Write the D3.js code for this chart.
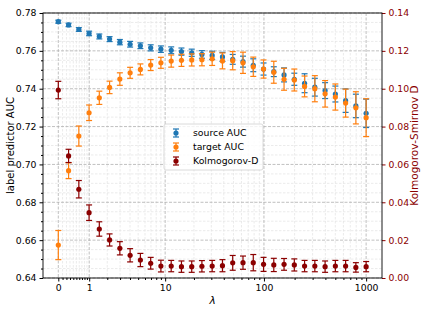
<!DOCTYPE html>
<html>
<head>
<meta charset="utf-8">
<script src="https://cdn.jsdelivr.net/npm/d3@7"></script>
<style>
  body { margin: 0; background: #fff; }
  text { font-family: "DejaVu Sans", sans-serif; }
</style>
</head>
<body>
<div id="chart-area"></div>
<script>

var width = 423,
    height = 318;

// lambda values (31 points, log spaced after 0)
var lambdas = [0, 0.259, 0.585, 0.995, 1.51, 2.16, 2.98, 4.01, 5.31, 6.95, 9.0,
  11.6, 14.86, 18.97, 24.1, 30.6, 38.8, 49.1, 62.1, 78.5, 99.1,
  125, 157.6, 198.7, 250.4, 315.5, 397.5, 500.7, 630.6, 794, 1000];

var sourceAUC = [0.7754, 0.7737, 0.7713, 0.7692, 0.7676, 0.7662, 0.7646, 0.7635, 0.7627, 0.7616, 0.7609,
  0.7603, 0.7596, 0.759, 0.7581, 0.7576, 0.7568, 0.7555, 0.7543, 0.7524, 0.7504,
  0.749, 0.7473, 0.745, 0.7429, 0.7408, 0.739, 0.7372, 0.7337, 0.7309, 0.727];
var sourceErr = [0.0008, 0.0009, 0.001, 0.0012, 0.0013, 0.0013, 0.0014, 0.0015, 0.0015, 0.0016, 0.0017,
  0.0018, 0.0019, 0.0019, 0.002, 0.0022, 0.0024, 0.0026, 0.0029, 0.0034, 0.0032,
  0.0026, 0.0037, 0.0032, 0.005, 0.0047, 0.0042, 0.0042, 0.0062, 0.0062, 0.0075];

var targetAUC = [0.6574, 0.6967, 0.715, 0.7273, 0.7352, 0.7407, 0.7451, 0.7484, 0.7502, 0.7525, 0.7537,
  0.7546, 0.755, 0.7552, 0.7553, 0.7558, 0.7547, 0.7548, 0.7537, 0.7516, 0.7504,
  0.7487, 0.745, 0.7446, 0.7412, 0.74, 0.7373, 0.7356, 0.7324, 0.7299, 0.7247];
var targetErr = [0.0077, 0.0042, 0.0053, 0.0041, 0.0035, 0.0033, 0.0033, 0.0029, 0.0029, 0.0029, 0.0029,
  0.0032, 0.0032, 0.0032, 0.0032, 0.0035, 0.0042, 0.0048, 0.0056, 0.0051, 0.0048,
  0.0058, 0.0058, 0.0058, 0.0055, 0.0069, 0.007, 0.0069, 0.0074, 0.0085, 0.01];

var ksD = [0.0993, 0.0645, 0.0469, 0.0345, 0.0259, 0.0201, 0.0157, 0.012, 0.0095, 0.0078, 0.0063,
  0.0063, 0.006, 0.006, 0.0062, 0.0063, 0.0065, 0.008, 0.0081, 0.0081, 0.0072,
  0.0069, 0.0072, 0.0069, 0.0063, 0.0063, 0.006, 0.0063, 0.0063, 0.0056, 0.006];
var ksErr = [0.0046, 0.0035, 0.0046, 0.0041, 0.0038, 0.0032, 0.0035, 0.0035, 0.0035, 0.0031, 0.0031,
  0.003, 0.003, 0.003, 0.003, 0.003, 0.0032, 0.0039, 0.0035, 0.0043, 0.0037,
  0.0035, 0.0031, 0.0032, 0.003, 0.003, 0.003, 0.003, 0.003, 0.0025, 0.0027];

var xTicks = [0, 1, 10, 100, 1000];
var xMinor = [0.1, 0.2, 0.3, 0.4, 0.5, 0.6, 0.7, 0.8, 0.9,
  2, 3, 4, 5, 6, 7, 8, 9, 20, 30, 40, 50, 60, 70, 80, 90,
  200, 300, 400, 500, 600, 700, 800, 900];
var leftTicks = [0.64, 0.66, 0.68, 0.70, 0.72, 0.74, 0.76, 0.78];
var rightTicks = [0, 0.02, 0.04, 0.06, 0.08, 0.10, 0.12, 0.14];

var seriesNames = ["source AUC", "target AUC", "Kolmogorov-D"];
var colors = ["#1f77b4", "#ff7f0e", "#8b0000"];

var pLeft = 43, pRight = 382, pTop = 13, pBottom = 278;

var svg = d3.select("#chart-area").append("svg")
    .attr("width", width)
    .attr("height", height);

var x = d3.scaleSymlog().constant(1)
    .domain([-0.41, 1428])
    .range([pLeft, pRight]);
var y = d3.scaleLinear().domain([0.64, 0.78]).range([pBottom, pTop]);
var y2 = d3.scaleLinear().domain([0, 0.14]).range([pBottom, pTop]);

var yMinor = d3.range(0.64, 0.7801, 0.005).filter(function(v) {
  return Math.abs(Math.round(v * 50) - v * 50) > 0.01;
});

// grid
var grid = svg.append("g");
grid.selectAll(".vminor").data(xMinor).enter().append("line")
    .attr("x1", d => x(d)).attr("x2", d => x(d))
    .attr("y1", pTop).attr("y2", pBottom)
    .style("stroke", "#e3e3e3").style("stroke-width", 0.7)
    .style("stroke-dasharray", "2.5,1.5");
grid.selectAll(".hminor").data(yMinor).enter().append("line")
    .attr("x1", pLeft).attr("x2", pRight)
    .attr("y1", d => y(d)).attr("y2", d => y(d))
    .style("stroke", "#e3e3e3").style("stroke-width", 0.7)
    .style("stroke-dasharray", "2.5,1.5");
grid.selectAll(".vmajor").data(xTicks).enter().append("line")
    .attr("x1", d => x(d)).attr("x2", d => x(d))
    .attr("y1", pTop).attr("y2", pBottom)
    .style("stroke", "#b0b0b0").style("stroke-width", 0.8)
    .style("stroke-dasharray", "3,1.5");
grid.selectAll(".hmajor").data(leftTicks).enter().append("line")
    .attr("x1", pLeft).attr("x2", pRight)
    .attr("y1", d => y(d)).attr("y2", d => y(d))
    .style("stroke", "#b0b0b0").style("stroke-width", 0.8)
    .style("stroke-dasharray", "3,1.5");

// error bar series
function drawSeries(vals, errs, yScale, color) {
  var g = svg.append("g");
  var pts = lambdas.map(function(l, i) { return {x: l, v: vals[i], e: errs[i]}; });
  var bars = g.selectAll("g").data(pts).enter().append("g");
  bars.append("line")
      .attr("x1", d => x(d.x)).attr("x2", d => x(d.x))
      .attr("y1", d => yScale(d.v - d.e)).attr("y2", d => yScale(d.v + d.e))
      .style("stroke", color).style("stroke-width", 1.2);
  [-1, 1].forEach(function(s) {
    bars.append("line")
        .attr("x1", d => x(d.x) - 3).attr("x2", d => x(d.x) + 3)
        .attr("y1", d => yScale(d.v + s * d.e)).attr("y2", d => yScale(d.v + s * d.e))
        .style("stroke", color).style("stroke-width", 1.2);
  });
  bars.append("circle")
      .attr("cx", d => x(d.x)).attr("cy", d => yScale(d.v))
      .attr("r", 2.6)
      .style("fill", color);
}

drawSeries(sourceAUC, sourceErr, y, colors[0]);
drawSeries(targetAUC, targetErr, y, colors[1]);
drawSeries(ksD, ksErr, y2, colors[2]);

// axes
svg.append("g").attr("transform", "translate(0," + pBottom + ")")
    .call(d3.axisBottom(x).tickValues(xTicks).tickFormat(d3.format("d")).tickSizeOuter(0).tickSize(3.5));
svg.append("g").attr("transform", "translate(0," + pBottom + ")")
    .call(d3.axisBottom(x).tickValues(xMinor).tickFormat("").tickSizeOuter(0).tickSize(2));

svg.append("g").attr("transform", "translate(" + pLeft + ",0)")
    .call(d3.axisLeft(y).tickValues(leftTicks).tickFormat(d3.format(".2f")).tickSizeOuter(0).tickSize(3.5));
svg.append("g").attr("transform", "translate(" + pLeft + ",0)")
    .call(d3.axisLeft(y).tickValues(yMinor).tickFormat("").tickSizeOuter(0).tickSize(2));

var rAxis = svg.append("g").attr("transform", "translate(" + pRight + ",0)")
    .call(d3.axisRight(y2).tickValues(rightTicks).tickFormat(d3.format(".2f")).tickSizeOuter(0).tickSize(3.5));
rAxis.selectAll("text").style("fill", colors[2]);
rAxis.selectAll("line").style("stroke", colors[2]);

svg.selectAll(".domain").remove();
svg.selectAll(".tick text").style("font-size", "9.3px").style("font-family", "DejaVu Sans");

// frame
svg.append("rect")
    .attr("x", pLeft).attr("y", pTop)
    .attr("width", pRight - pLeft).attr("height", pBottom - pTop)
    .style("fill", "none").style("stroke", "#000").style("stroke-width", 0.9);

// labels
svg.append("text")
    .attr("transform", "translate(10," + ((pTop + pBottom) / 2) + ") rotate(-90)")
    .attr("text-anchor", "middle").attr("dy", "0.35em")
    .style("font-size", "10px")
    .text("label predictor AUC");
svg.append("text")
    .attr("transform", "translate(414," + ((pTop + pBottom) / 2) + ") rotate(-90)")
    .attr("text-anchor", "middle").attr("dy", "0.35em")
    .style("font-size", "10.5px").style("fill", colors[2])
    .text("Kolmogorov-Smirnov D");
svg.append("text")
    .attr("x", (pLeft + pRight) / 2).attr("y", 304)
    .attr("text-anchor", "middle")
    .style("font-size", "10.5px").style("font-style", "italic")
    .text("λ");

// legend
var legend = svg.append("g").attr("transform", "translate(164,124)");
legend.append("rect")
    .attr("width", 99).attr("height", 46).attr("rx", 2)
    .style("fill", "#fff").style("fill-opacity", 0.8)
    .style("stroke", "#d0d0d0").style("stroke-width", 0.8);
var item = legend.selectAll(".item").data(seriesNames).enter().append("g")
    .attr("transform", (d, i) => "translate(12," + (9 + i * 14) + ")");
item.append("line").attr("y1", -4).attr("y2", 4)
    .style("stroke", (d, i) => colors[i]).style("stroke-width", 1.2);
item.append("line").attr("x1", -3).attr("x2", 3).attr("y1", -4).attr("y2", -4)
    .style("stroke", (d, i) => colors[i]).style("stroke-width", 1.2);
item.append("line").attr("x1", -3).attr("x2", 3).attr("y1", 4).attr("y2", 4)
    .style("stroke", (d, i) => colors[i]).style("stroke-width", 1.2);
item.append("circle").attr("r", 2.6).style("fill", (d, i) => colors[i]);
item.append("text")
    .attr("x", 17).attr("dy", "0.35em")
    .style("font-size", "9.3px")
    .text(d => d);

</script>
</body>
</html>
